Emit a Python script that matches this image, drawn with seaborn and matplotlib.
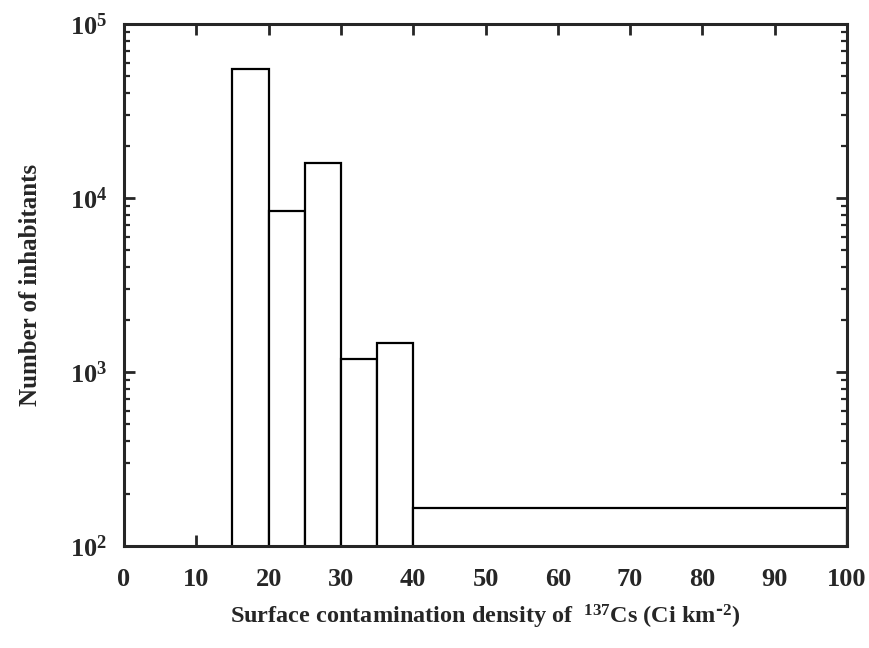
import matplotlib
matplotlib.use("Agg")
import matplotlib.pyplot as plt
import numpy as np
import pandas as pd
import seaborn as sns
from matplotlib.ticker import LogLocator, FixedLocator

sns.set_style("ticks")
plt.rcParams['font.family'] = ['Liberation Serif', 'DejaVu Serif']
plt.rcParams['font.weight'] = 'bold'
plt.rcParams['mathtext.default'] = 'regular'

# histogram bins (Ci km-2) and number of inhabitants in each
bin_edges = [15, 20, 25, 30, 35, 40, 100]
inhabitants = [55000, 8400, 15900, 1180, 1470, 165]
x_ticks = [0, 10, 20, 30, 40, 50, 60, 70, 80, 90, 100]

data = pd.DataFrame({
    "density": [(a + b) / 2 for a, b in zip(bin_edges[:-1], bin_edges[1:])],
    "count": inhabitants,
})

fig = plt.figure(figsize=(8.69, 6.48), dpi=100)
ax = fig.add_axes([0.1427, 0.1574, 0.832, 0.8056])

sns.histplot(data=data, x="density", weights="count", bins=bin_edges,
             color="white", edgecolor="black", linewidth=1.6, alpha=1,
             ax=ax)

ax.set_yscale("log")
ax.set_xlim(0, 100)
ax.set_ylim(100, 1e5)
ax.xaxis.set_major_locator(FixedLocator(x_ticks))
ax.yaxis.set_major_locator(LogLocator(base=10, numticks=10))
ax.yaxis.set_minor_locator(LogLocator(base=10, subs=np.arange(2, 10), numticks=10))

for s in ax.spines.values():
    s.set_linewidth(2.2)
    s.set_visible(True)

ax.tick_params(axis="both", which="major", direction="in", top=True, right=True,
               length=8, width=2, labelsize=19)
ax.tick_params(axis="x", which="major", pad=16)
ax.tick_params(axis="y", which="major", pad=12)
ax.tick_params(axis="y", which="minor", direction="in", left=True, right=True,
               length=4, width=1.6)
ax.tick_params(axis="x", which="minor", bottom=False, top=False)

ax.set_xlabel(r"Surface contamination density of  $^{137}$Cs (Ci km$^{\text{-}2}$)",
              fontsize=17.5, fontweight="bold", labelpad=8)
ax.set_ylabel("Number of inhabitants", fontsize=18, fontweight="bold", labelpad=20)

plt.savefig("out.png", dpi=100)
